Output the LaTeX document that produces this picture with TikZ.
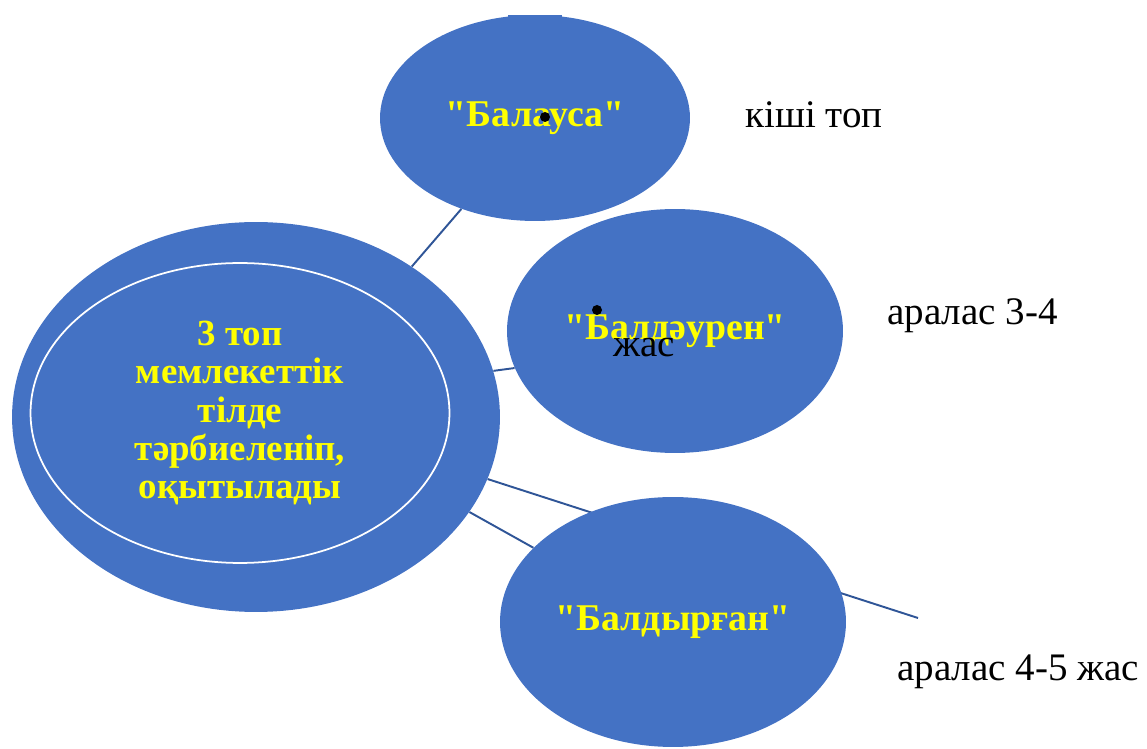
\documentclass[tikz,border=0pt]{standalone}
\usepackage{fontspec}
\setmainfont{Liberation Serif}
\usetikzlibrary{shapes.geometric,backgrounds}
\definecolor{ovalblue}{HTML}{4472C4}
\definecolor{linkblue}{HTML}{2F5597}
\definecolor{txtyellow}{HTML}{FFFF00}
\newcommand{\qq}{\textquotedbl}

\begin{document}
\begin{tikzpicture}[x=0.02cm, y=-0.02cm,
    oval/.style={ellipse, fill=ovalblue, inner sep=0pt},
    ovaltext/.style={font=\bfseries\fontsize{21.5}{23}\selectfont, text=txtyellow},
    note/.style={font=\fontsize{22.2}{24}\selectfont, text=black, inner sep=0pt, anchor=base west},
    link/.style={draw=linkblue, line width=1.1pt},
    dot/.style={circle, fill=black, inner sep=0pt, minimum size=0.2cm}]
  \useasboundingbox (0,0) rectangle (1147,749);

  % groups
  \node [oval, minimum width=9.76cm, minimum height=7.8cm] (grp) at (256,417) {};
  \node [oval, draw=white, line width=1pt, minimum width=8.38cm, minimum height=6cm,
         align=center, ovaltext, font=\bfseries\fontsize{21}{21.8}\selectfont] (core) at (240,413)
        {3 топ\\ мемлекеттік\\ тілде\\ тәрбиеленіп,\\ оқытылады};
  \fill [ovalblue] (508,15) rectangle (562,20);
  \node [oval, minimum width=6.2cm, minimum height=4.12cm, ovaltext] (bal) at (535,118) {\qq Балауса\qq};
  \node [oval, minimum width=6.72cm, minimum height=4.88cm, ovaltext] (bald) at (675,331) {\qq Балдәурен\qq};
  \node [oval, minimum width=6.92cm, minimum height=5cm, ovaltext] (baldyr) at (673,622) {\qq Балдырған\qq};

  % links
  \draw [link] (grp.44) -- (bal.231);
  \draw [link] (grp.11) -- (bald.193);
  \draw [link] (grp.-24) -- (baldyr.152);
  \coordinate (tip) at (918,618);
  \begin{scope}[on background layer]
    \draw [link] (grp.-15) -- (tip);
  \end{scope}

  % notes
  \node [note] (small) at (745,128) {кіші топ};
  \node [note] (mix34) at (887,325) {аралас 3-4};
  \node [note] (age34) at (613,357) {жас};
  \node [note] (mix45) at (897,681) {аралас 4-5 жас};
  \node [dot] (d1) at (545,117) {};
  \node [dot] (d2) at (597,310) {};
\end{tikzpicture}
\end{document}
